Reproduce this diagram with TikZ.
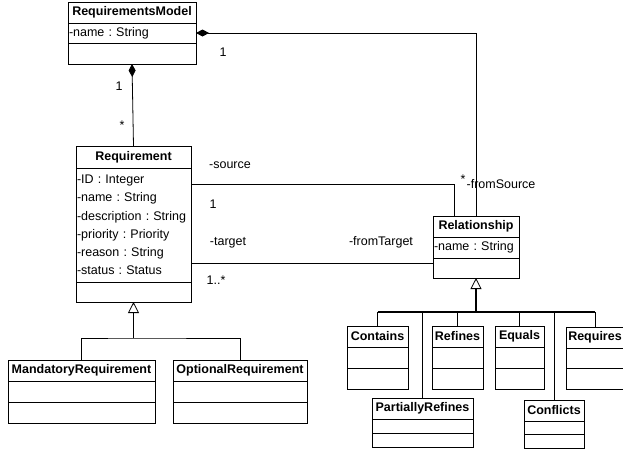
\documentclass[tikz,border=0pt]{standalone}
\usepackage{fontspec}
\setmainfont{Liberation Sans}
\frenchspacing
\usetikzlibrary{arrows.meta,
                positioning}

\begin{document}
\begin{tikzpicture}[x=1pt,y=-1pt,line width=0.8pt,
   every node/.style={font=\fontsize{12.5}{15}\selectfont,inner sep=1pt,outer sep=0pt},
   head/.style={draw,anchor=north west,minimum height=21,font=\fontsize{12.5}{15}\selectfont\bfseries},
   part/.style={draw,anchor=north,minimum height=21,align=left},
   comp/.style={{Diamond[length=13pt,width=7pt]}-},
   gen/.style={-{Triangle[open,length=11pt,width=11pt,line width=0.8pt]}}]
 \clip (0,0) rectangle (623,450);
 \fill[white] (0,0) rectangle (623,450);

 \node[head,minimum width=128] (rm) at (68,2) {RequirementsModel};
 \node[part,text width=126pt,minimum height=20] (rm-a) at (rm.south) {-name : String};
 \node[part,minimum width=128] (rm-o) at (rm-a.south) {};

 \node[head,minimum width=115,minimum height=22] (req) at (76,146) {Requirement};
 \node[part,text width=113pt,minimum height=114,font=\fontsize{12.5}{18.2}\selectfont] (req-a) at (req.south)
   {-ID : Integer\\-name : String\\-description : String\\-priority : Priority\\-reason : String\\-status : Status};
 \node[part,minimum width=115,minimum height=20] (req-o) at (req-a.south) {};

 \node[head,minimum width=86] (rel) at (433,216) {Relationship};
 \node[part,text width=84pt] (rel-a) at (rel.south) {-name : String};
 \node[part,minimum width=86,minimum height=20] (rel-o) at (rel-a.south) {};

 \foreach \n/\t/\x/\y/\w/\h in {mand/MandatoryRequirement/8/360/147/21,
                                opt/OptionalRequirement/173/360/134/21,
                                cnt/Contains/347/326/61/21,
                                ref/Refines/432/326/51/21,
                                equ/Equals/495/326/49/21,
                                rqs/Requires/566/327/58/20.5,
                                prf/PartiallyRefines/372/398/101/14,
                                cfl/Conflicts/524/400/60/13.5}
 {
   \node[head,minimum width=\w] (\n) at (\x,\y) {\t};
   \node[part,minimum width=\w,minimum height=\h] (\n-a) at (\n.south) {};
   \node[part,minimum width=\w,minimum height=\h] (\n-o) at (\n-a.south) {};
 }

 \draw[comp] (rm-o.south) -- (req.north);
 \draw[comp] (rm-a.east) -| (rel.north);
 \coordinate (src) at ([yshift=-16pt]req-a.north east);
 \draw (src) -| ([xshift=-22pt]rel.north);
 \coordinate (tgt) at ([yshift=19pt]req-a.south east);
 \draw (tgt) -- (tgt -| rel-o.west);

 \path (req-o.south) ++(0,36) coordinate (reqbar);
 \draw[gen] (reqbar) -- (req-o.south);
 \draw (mand.north) |- (reqbar) -| (opt.north);

 \path (rel-o.south) ++(0,34) coordinate (relbar);
 \draw[gen,line width=1.6pt] (relbar) -- (rel-o.south);
 \draw[line width=1.4pt] (cnt.north |- relbar) -- (rqs.north |- relbar);
 \foreach \n in {cnt,ref,equ,rqs,prf,cfl}
   \draw (\n.north) -- (\n.north |- relbar);

 \node (m-rm) at (223,52) {1};
 \node (m-rmb) at (119,86) {1};
 \node (m-req) at (122,125) {*};
 \node (r-src) at (230,165) {-source};
 \node (m-src) at (213,204) {1};
 \node (r-tgt) at (228,243) {-target};
 \node (m-tgt) at (216,280) {1..*};
 \node (r-ftg) at (381,242) {-fromTarget};
 \node (m-fsrc) at (463,179) {*};
 \node (r-fsrc) at (501,184) {-fromSource};
\end{tikzpicture}
\end{document}
